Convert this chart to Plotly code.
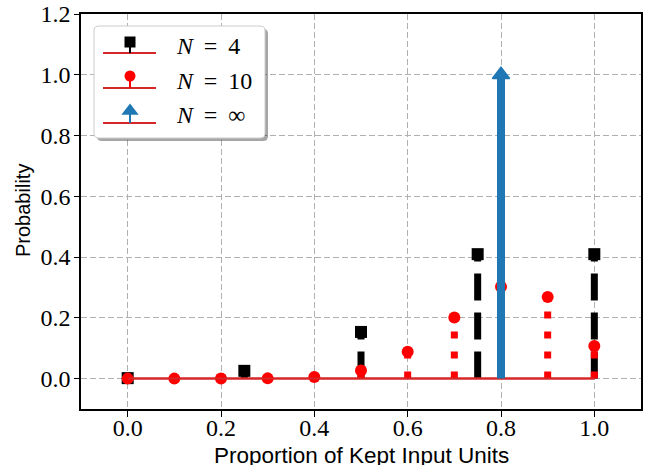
import plotly.graph_objects as go
import numpy as np

# ---- data ----
x_n4 = [0.0, 0.25, 0.5, 0.75, 1.0]
p_n4 = [0.0016, 0.0256, 0.1536, 0.4096, 0.4096]
x_n10 = [0.0, 0.1, 0.2, 0.3, 0.4, 0.5, 0.6, 0.7, 0.8, 0.9, 1.0]
p_n10 = [0.0000, 0.0000, 0.0001, 0.0008, 0.0055, 0.0264, 0.0881, 0.2013, 0.3020, 0.2684, 0.1074]
x_inf = [0.8]
p_inf = [1.0]
x_ticks = [0.0, 0.2, 0.4, 0.6, 0.8, 1.0]
x_ticklabels = ["0.0", "0.2", "0.4", "0.6", "0.8", "1.0"]
y_ticks = [0.0, 0.2, 0.4, 0.6, 0.8, 1.0, 1.2]
y_ticklabels = ["0.0", "0.2", "0.4", "0.6", "0.8", "1.0", "1.2"]
legend_labels = ["<i>N</i>\u2009 = \u20094", "<i>N</i>\u2009 = \u200910", "<i>N</i>\u2009 = \u2009∞"]

# ---- layout constants (pixels) ----
W, H = 651, 465
L, R, T, B = 81, 641, 14, 409

BLACK = "#000000"
RED = "#ff0000"
BLUE = "#1f77b4"
BASE = "#d62728"


def stems(xs, ys):
    sx, sy = [], []
    for x, y in zip(xs, ys):
        sx += [x, x, None]
        sy += [0, y, None]
    return sx, sy


fig = go.Figure()

series = [
    (x_n4, p_n4, BLACK, "27px,12px", 7, "square", 12, True),
    (x_n10, p_n10, RED, "7px,13px", 7, "circle", 12, True),
    (x_inf, p_inf, BLUE, "solid", 8, "triangle-up", 15, False),
]
for xs, ys, col, dash, lw, sym, ms, base in series:
    sx, sy = stems(xs, ys)
    fig.add_trace(go.Scatter(x=sx, y=sy, mode="lines",
                             line=dict(color=col, width=lw, dash=dash),
                             hoverinfo="skip", showlegend=False))
    fig.add_trace(go.Scatter(x=xs, y=ys, mode="markers",
                             marker=dict(symbol=sym, size=ms, color=col,
                                         line=dict(width=1.5 if sym == "triangle-up" else 0, color=col)),
                             showlegend=False))
    if base:
        fig.add_trace(go.Scatter(x=[min(xs), max(xs)], y=[0, 0], mode="lines",
                                 line=dict(color=BASE, width=2),
                                 hoverinfo="skip", showlegend=False))

# ---- custom legend (pixel coordinates on hidden overlay axes) ----
def rrect(x0, y0, x1, y1, r, n=8):
    px, py = [], []
    corners = [(x1 - r, y0 + r, -90, 0), (x1 - r, y1 - r, 0, 90),
               (x0 + r, y1 - r, 90, 180), (x0 + r, y0 + r, 180, 270)]
    for cx, cy, a0, a1 in corners:
        for a in np.linspace(a0, a1, n):
            px.append(cx + r * np.cos(np.radians(a)))
            py.append(cy + r * np.sin(np.radians(a)))
    px.append(px[0]); py.append(py[0])
    return px, py

bx0, by0, bx1, by1 = 94, 26, 265, 138
sxp, syp = rrect(bx0 + 3, by0 + 3, bx1 + 3, by1 + 3, 4)
fig.add_trace(go.Scatter(x=sxp, y=syp, xaxis="x2", yaxis="y2", mode="lines",
                         fill="toself", fillcolor="rgba(0,0,0,0.35)",
                         line=dict(width=0), hoverinfo="skip", showlegend=False))
bxp, byp = rrect(bx0, by0, bx1, by1, 4)
fig.add_trace(go.Scatter(x=bxp, y=byp, xaxis="x2", yaxis="y2", mode="lines",
                         fill="toself", fillcolor="white",
                         line=dict(width=1, color="#cccccc"), hoverinfo="skip", showlegend=False))

row_base = [53, 88, 123]
row_mark = [42, 76, 111]
row_text = [46, 81, 115]
hx0, hx1, hxm = 103, 156, 130
for i, (xs, ys, col, dash, lw, sym, ms, base) in enumerate(series):
    fig.add_trace(go.Scatter(x=[hx0, hx1], y=[row_base[i], row_base[i]], xaxis="x2", yaxis="y2",
                             mode="lines", line=dict(color=BASE, width=2),
                             hoverinfo="skip", showlegend=False))
    fig.add_trace(go.Scatter(x=[hxm, hxm], y=[row_base[i], row_mark[i]], xaxis="x2", yaxis="y2",
                             mode="lines", line=dict(color=col, width=2),
                             hoverinfo="skip", showlegend=False))
    fig.add_trace(go.Scatter(x=[hxm], y=[row_mark[i]], xaxis="x2", yaxis="y2", mode="markers",
                             marker=dict(symbol=sym, size=ms - 1 if sym != "triangle-up" else 15,
                                         color=col, line=dict(width=0)),
                             hoverinfo="skip", showlegend=False))
    fig.add_annotation(x=174, y=row_text[i], xref="x2", yref="y2", text=legend_labels[i],
                       showarrow=False, xanchor="left", yanchor="middle",
                       font=dict(family="Liberation Serif", size=24, color="black"))

# ---- axis titles ----
fig.add_annotation(x=0.5, y=-(441 - B) / (B - T), xref="paper", yref="paper",
                   text="Proportion of Kept Input Units", showarrow=False,
                   xanchor="center", yanchor="top",
                   font=dict(family="Liberation Sans", size=22.5, color="black"))
fig.add_annotation(x=-(L - 23) / (R - L), y=(B - 210) / (B - T), xref="paper", yref="paper",
                   text="Probability", showarrow=False, textangle=-90,
                   xanchor="center", yanchor="middle",
                   font=dict(family="Liberation Sans", size=20, color="black"))

tickfont = dict(family="Liberation Serif", size=24, color="black")
fig.update_layout(
    width=W, height=H,
    margin=dict(l=L, r=W - R, t=T, b=H - B, pad=0, autoexpand=False),
    paper_bgcolor="white", plot_bgcolor="white",
    xaxis=dict(range=[-0.1, 1.1], tickvals=x_ticks, ticktext=x_ticklabels, automargin=False,
               showgrid=True, gridcolor="#b0b0b0", gridwidth=1, griddash="6px,3px",
               zeroline=False, showline=True, linecolor="black", linewidth=1.5, mirror=True,
               ticks="outside", ticklen=6, tickwidth=1.2, tickcolor="black", tickfont=tickfont,
               ticklabelstandoff=-10),
    yaxis=dict(range=[-0.1, 1.2], tickvals=y_ticks, ticktext=y_ticklabels, automargin=False,
               showgrid=True, gridcolor="#b0b0b0", gridwidth=1, griddash="6px,3px",
               zeroline=False, showline=True, linecolor="black", linewidth=1.5, mirror=True,
               ticks="outside", ticklen=5, tickwidth=1.2, tickcolor="black", tickfont=tickfont,
               ticklabelstandoff=-1),
    xaxis2=dict(range=[L, R], overlaying="x", visible=False, fixedrange=True, automargin=False),
    yaxis2=dict(range=[B, T], overlaying="y", visible=False, fixedrange=True, automargin=False),
)

fig.write_html("out.html", config={"displayModeBar": False},
               post_script="document.body.style.margin='0px';document.body.style.overflow='hidden';")
